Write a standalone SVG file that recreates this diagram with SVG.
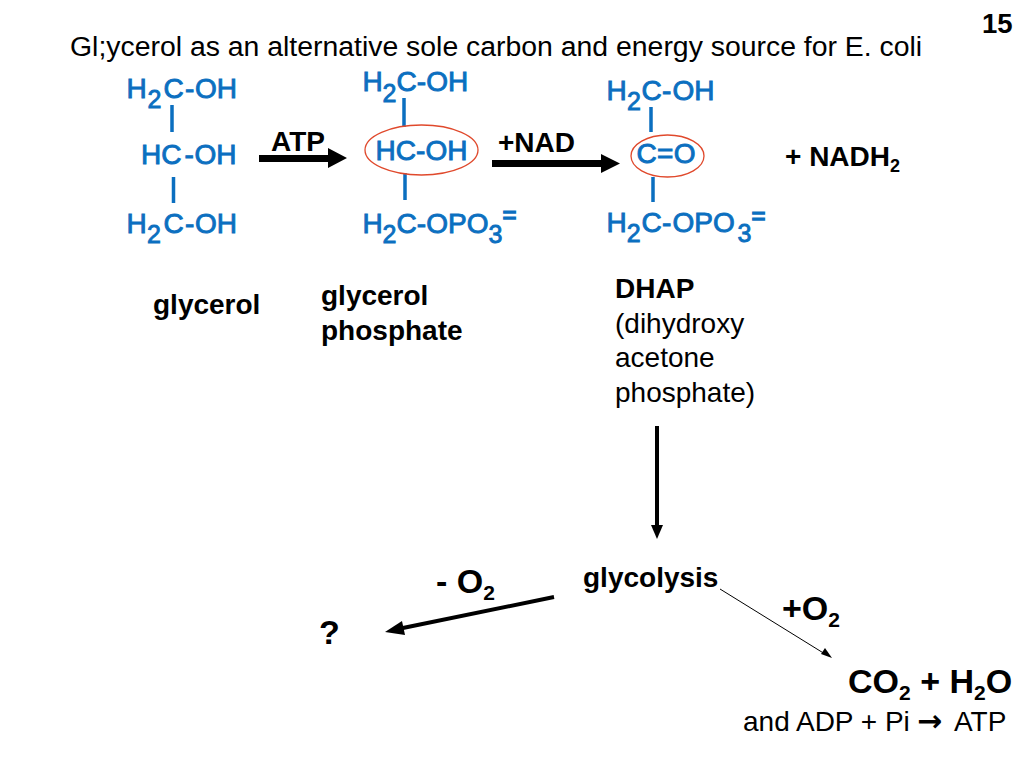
<svg xmlns="http://www.w3.org/2000/svg" width="1024" height="768" viewBox="0 0 1024 768">
<style>
text{font-family:"Liberation Sans",Arial,sans-serif;fill:#000}
.b{font-weight:bold}
.c{fill:#0b6fc0;font-size:28px;stroke:#0b6fc0;stroke-width:.9px}
.s{font-size:25px}
.eq{font-size:24px;stroke-width:1.4px}
.bond{stroke:#0b6fc0;stroke-width:3.5;fill:none}
.ring{fill:none;stroke:#e0492c;stroke-width:1.3}
.l{font-size:28px}
.big{font-size:34px}
.sub{font-size:21px}
.arrow{stroke:#000;fill:none}
</style>
<rect width="1024" height="768" fill="#fff"/>
<text id="page" class="b" x="982" y="33" font-size="27.500">15</text>
<text id="title" x="70" y="56" font-size="28.400">Gl;ycerol as an alternative sole carbon and energy source for E. coli</text>
<g id="glycerol">
<text class="c" y="98"><tspan x="126.500">H</tspan><tspan x="147.500" y="108" class="s">2</tspan><tspan x="163.500" y="98">C</tspan><tspan x="185">-</tspan><tspan x="195">OH</tspan></text>
<text class="c" y="164"><tspan x="141">H</tspan><tspan x="161.300">C</tspan><tspan x="184.500">-</tspan><tspan x="194.500">OH</tspan></text>
<text class="c" y="233"><tspan x="126.500">H</tspan><tspan x="147" y="243" class="s">2</tspan><tspan x="163.500" y="233">C</tspan><tspan x="185">-</tspan><tspan x="195">OH</tspan></text>
<path class="bond" d="M172 105V132M173.500 177V203"/>
<text class="b l" x="153" y="314">glycerol</text>
</g>
<g id="glycerol-phosphate">
<text class="c" y="91"><tspan x="362.500">H</tspan><tspan x="382.500" y="102" class="s">2</tspan><tspan x="396.500" y="91">C</tspan><tspan x="416.800">-</tspan><tspan x="426.200">OH</tspan></text>
<text class="c" y="160"><tspan x="375.500">H</tspan><tspan x="395.800">C</tspan><tspan x="416">-</tspan><tspan x="425.500">OH</tspan></text>
<text class="c" y="233"><tspan x="362.500">H</tspan><tspan x="382.500" y="243" class="s">2</tspan><tspan x="396.500" y="233">C</tspan><tspan x="416.800">-</tspan><tspan x="426.200">OPO</tspan><tspan x="488.500" y="243" class="s">3</tspan></text>
<text class="c eq" x="502.500" y="223">=</text>
<path class="bond" d="M404 98V127M405 173V200"/>
<ellipse class="ring" cx="421.500" cy="150" rx="56.500" ry="25"/>
<text class="b l" x="321" y="305">glycerol</text>
<text class="b l" x="321" y="340">phosphate</text>
</g>
<g id="dhap">
<text class="c" y="100"><tspan x="606.500">H</tspan><tspan x="627" y="110" class="s">2</tspan><tspan x="641.500" y="100">C</tspan><tspan x="662">-</tspan><tspan x="672.500">OH</tspan></text>
<text class="c" y="163"><tspan x="636.500">C</tspan><tspan x="657">=</tspan><tspan x="673.800">O</tspan></text>
<text class="c" y="232"><tspan x="606.500">H</tspan><tspan x="626.800" y="242" class="s">2</tspan><tspan x="641.500" y="232">C</tspan><tspan x="662">-</tspan><tspan x="672.500">OPO</tspan><tspan x="737.500" y="242" class="s">3</tspan></text>
<text class="c eq" x="751.500" y="224">=</text>
<path class="bond" d="M651 107V132M653 177V202"/>
<ellipse class="ring" cx="667.500" cy="156" rx="36.500" ry="21"/>
<text class="b l" x="615" y="298">DHAP</text>
<text class="l" x="615" y="333">(dihydroxy</text>
<text class="l" x="615" y="367">acetone</text>
<text class="l" x="615" y="402">phosphate)</text>
</g>
<g id="nadh"><text class="b l" x="785" y="166">+ NADH<tspan font-size="18" dy="6">2</tspan></text></g>
<g id="glycolysis"><text class="b l" x="583" y="587">glycolysis</text></g>
<g id="unknown"><text class="b big" x="319" y="644">?</text></g>
<g id="co2"><text class="b big" x="848" y="693">CO<tspan class="sub" dy="7">2</tspan><tspan dy="-7"> + H</tspan><tspan class="sub" dy="7">2</tspan><tspan dy="-7">O</tspan></text>
<text class="l" x="743" y="731">and ADP + Pi <tspan x="917" font-family="'DejaVu Sans',sans-serif" font-size="30" font-weight="bold">→</tspan><tspan x="954">ATP</tspan></text></g>
<g id="labels">
<text class="b l" x="271" y="151">ATP</text>
<text class="b l" x="498" y="152">+NAD</text>
<text class="b big" x="436" y="593">- O<tspan class="sub" dy="7">2</tspan></text>
<text class="b big" x="782" y="620">+O<tspan class="sub" dy="7">2</tspan></text>
</g>
<g id="connectors">
<path d="M259 155H328V148L347 158L328 168V162H259Z" fill="#000"/>
<path d="M492 160H601V154L620 163.500L601 173V167H492Z" fill="#000"/>
<path class="arrow" stroke-width="4" d="M657 426V528"/><path d="M651 525H663L657 539Z"/>
<path class="arrow" stroke-width="4" d="M554 597L398 629"/><path d="M402 621L385 632L405 635Z"/>
<path class="arrow" stroke-width="1" d="M720 589L825 654"/><path d="M821 654L832 658L825 648Z"/>
</g>
</svg>
